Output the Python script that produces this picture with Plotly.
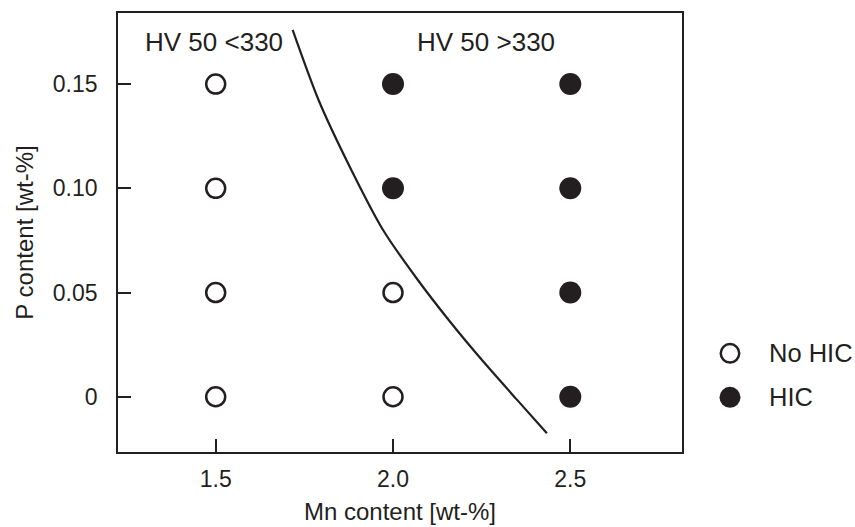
import plotly.graph_objects as go

# Mn / P combinations tested, split by HIC outcome
no_hic_mn = [1.5, 1.5, 1.5, 1.5, 2.0, 2.0]
no_hic_p = [0.15, 0.10, 0.05, 0.0, 0.05, 0.0]

hic_mn = [2.0, 2.0, 2.5, 2.5, 2.5, 2.5]
hic_p = [0.15, 0.10, 0.15, 0.10, 0.05, 0.0]

# HV 50 = 330 boundary line
boundary_mn = [1.717, 1.791, 1.879, 1.972, 2.068, 2.161, 2.254, 2.350, 2.434]
boundary_p = [0.176, 0.142, 0.110, 0.080, 0.0565, 0.036, 0.017, -0.0015, -0.0175]

x_ticks = [1.5, 2.0, 2.5]
x_tick_text = ["1.5", "2.0", "2.5"]
y_ticks = [0.0, 0.05, 0.10, 0.15]
y_tick_text = ["0", "0.05", "0.10", "0.15"]

legend_labels = ["No HIC", "HIC"]

INK = "#231f20"
FONT = "Liberation Sans, Arial, Helvetica, sans-serif"

fig = go.Figure()

fig.add_trace(go.Scatter(
    x=boundary_mn, y=boundary_p, mode="lines",
    line=dict(color=INK, width=2.2, shape="spline", smoothing=0.8),
    showlegend=False, hoverinfo="skip",
))

fig.add_trace(go.Scatter(
    x=no_hic_mn, y=no_hic_p, mode="markers", name=legend_labels[0],
    marker=dict(symbol="circle", size=19, color="white",
                line=dict(color=INK, width=2.5)),
    showlegend=False,
))

fig.add_trace(go.Scatter(
    x=hic_mn, y=hic_p, mode="markers", name=legend_labels[1],
    marker=dict(symbol="circle", size=22, color=INK,
                line=dict(color=INK, width=0)),
    showlegend=False,
))

axis_common = dict(
    showline=True, mirror=True, linecolor=INK, linewidth=1.6,
    ticks="inside", ticklen=13, tickwidth=1.6, tickcolor=INK,
    showgrid=False, zeroline=False,
    tickfont=dict(family=FONT, size=23, color=INK),
)

fig.update_xaxes(
    range=[1.2245, 2.815], tickvals=x_ticks, ticktext=x_tick_text,
    ticklabelstandoff=6,
    title=dict(text="Mn content [wt-%]", font=dict(family=FONT, size=24, color=INK),
               standoff=12),
    **axis_common,
)
fig.update_yaxes(
    range=[-0.0265, 0.1841], tickvals=y_ticks, ticktext=y_tick_text,
    ticklabelstandoff=14,
    title=dict(text="P content [wt-%]", font=dict(family=FONT, size=24, color=INK),
               standoff=12),
    **axis_common,
)

# region labels either side of the boundary
fig.add_annotation(text="HV 50 <330", x=0.0443, y=0.9346, xref="paper", yref="paper",
                   xanchor="left", yanchor="middle", showarrow=False,
                   font=dict(family=FONT, size=26, color=INK))
fig.add_annotation(text="HV 50 >330", x=0.5266, y=0.9346, xref="paper", yref="paper",
                   xanchor="left", yanchor="middle", showarrow=False,
                   font=dict(family=FONT, size=26, color=INK))

# key drawn beside the plot
key_y = [0.2248, 0.1246]
key_fill = ["white", INK]
key_half = [9.25, 10.5]
key_line = [2.5, 0]
for lab, ky, fill, half, lw in zip(legend_labels, key_y, key_fill, key_half, key_line):
    fig.add_shape(type="circle", xref="paper", yref="paper",
                  xsizemode="pixel", ysizemode="pixel",
                  xanchor=1.0851, yanchor=ky,
                  x0=-half, x1=half, y0=-half, y1=half,
                  fillcolor=fill, line=dict(color=INK, width=lw))
    fig.add_annotation(text=lab, x=1.1507, y=ky, xref="paper", yref="paper",
                       xanchor="left", yanchor="middle", showarrow=False,
                       font=dict(family=FONT, size=25.5, color=INK))

fig.update_layout(
    width=855, height=527,
    margin=dict(l=118, r=173, t=13, b=75, autoexpand=False),
    paper_bgcolor="white", plot_bgcolor="white",
    showlegend=False,
)

fig.write_html("out.html")
